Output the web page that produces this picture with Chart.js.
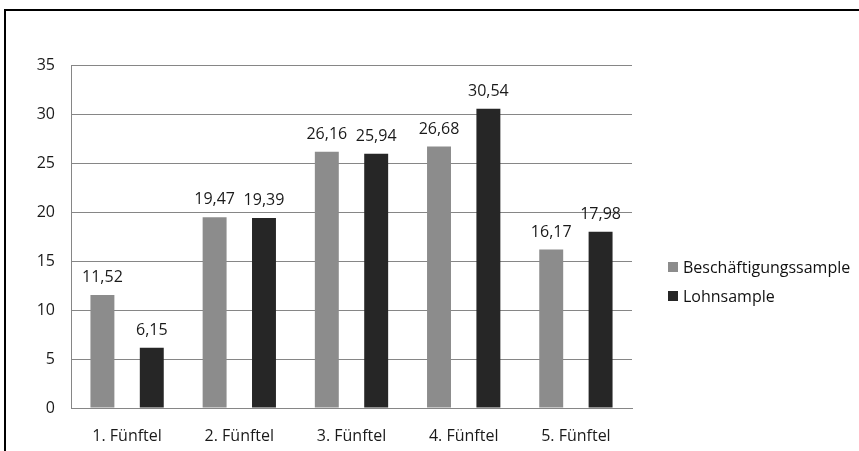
<!DOCTYPE html>
<html><head><meta charset="utf-8">
<script src="https://cdn.jsdelivr.net/npm/chart.js@4"></script>
<style>
html,body{margin:0;padding:0;background:#fff;}
#wrap{position:relative;width:859px;height:451px;overflow:hidden;}
#frame{position:absolute;left:4px;top:9px;width:900px;height:500px;border-left:2px solid #000;border-top:2px solid #000;}
canvas{position:absolute;left:0;top:0;}
#legend{position:absolute;left:668px;top:252px;font-family:"Open Sans",sans-serif;font-size:16px;color:#111;}
#legend div{display:flex;align-items:center;height:29px;}
#legend span.sw{display:inline-block;width:10px;height:10px;margin-right:5px;}
</style></head>
<body><div id="wrap"><div id="frame"></div><canvas id="c" width="859" height="451"></canvas><div id="legend"></div></div>
<script>
const categories = ["1. Fünftel","2. Fünftel","3. Fünftel","4. Fünftel","5. Fünftel"];
const seriesNames = ["Beschäftigungssample","Lohnsample"];
const beschaeftigung = [11.52,19.47,26.16,26.68,16.17];
const lohn = [6.15,19.39,25.94,30.54,17.98];
const yTicks = [0,5,10,15,20,25,30,35];
const colors = ["#8c8c8c","#262626"];

const font = {family:"'Open Sans', sans-serif", size:16};

const valueLabels = {
  id:'valueLabels',
  afterDatasetsDraw(chart){
    const ctx = chart.ctx;
    ctx.save();
    ctx.font = "16px 'Open Sans', sans-serif";
    ctx.fillStyle = "#1a1a1a";
    ctx.textAlign = "center";
    ctx.textBaseline = "alphabetic";
    chart.data.datasets.forEach((ds,i)=>{
      chart.getDatasetMeta(i).data.forEach((bar,j)=>{
        ctx.fillText(ds.data[j].toFixed(2).replace('.',','), bar.x, bar.y - 13);
      });
    });
    ctx.restore();
  }
};

new Chart(document.getElementById('c'),{
  type:'bar',
  data:{labels:categories,datasets:[
    {label:seriesNames[0],data:beschaeftigung,backgroundColor:colors[0],categoryPercentage:0.88,barPercentage:0.485},
    {label:seriesNames[1],data:lohn,backgroundColor:colors[1],categoryPercentage:0.88,barPercentage:0.485}
  ]},
  options:{
    responsive:false,animation:false,
    layout:{padding:{left:20,right:227,top:65,bottom:6}},
    plugins:{legend:{display:false},tooltip:{enabled:false}},
    scales:{
      x:{grid:{display:false},border:{display:true,color:'#868686',width:1},
         ticks:{font:font,color:'#1a1a1a',padding:11},
         afterFit(s){s.height=37;}},
      y:{min:0,max:35,
         afterBuildTicks(s){s.ticks=yTicks.map(v=>({value:v}));},
         grid:{color:'#868686',lineWidth:1,drawTicks:false},
         border:{display:true,color:'#868686',width:1},
         ticks:{font:font,color:'#1a1a1a',padding:16},
         afterFit(s){s.width=51;}}
    }
  },
  plugins:[valueLabels]
});

const lg=document.getElementById('legend');
seriesNames.forEach((n,i)=>{const d=document.createElement('div');d.innerHTML='<span class="sw" style="background:'+colors[i]+'"></span>'+n;lg.appendChild(d);});
</script></body></html>
